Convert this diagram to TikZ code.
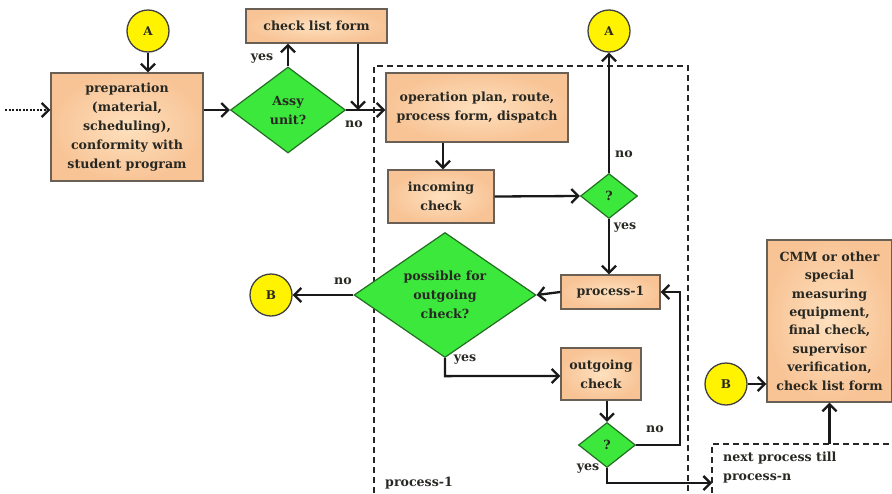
\documentclass[tikz,border=0pt]{standalone}
\usepackage{fontspec}
\setmainfont{DejaVu Serif}
\usetikzlibrary{shapes.geometric,arrows.meta}
\definecolor{peachIn}{RGB}{254,224,190}
\definecolor{peachOut}{RGB}{248,196,150}
\definecolor{boxline}{RGB}{105,95,85}
\definecolor{decgreen}{RGB}{60,232,60}
\definecolor{decline}{RGB}{35,110,35}
\definecolor{conyellow}{RGB}{255,243,0}
\definecolor{txt}{RGB}{40,40,35}
\begin{document}
\begin{tikzpicture}[x=1pt,y=-1pt,
  every node/.style={font=\bfseries\fontsize{12.6}{19}\selectfont, text=txt},
  procbox/.style={rectangle, draw=boxline, line width=1.3pt,
    inner color=peachIn, outer color=peachOut, align=center, inner sep=0pt},
  decision/.style={diamond, draw=decline, line width=1.2pt, fill=decgreen,
    inner sep=0pt, align=center},
  connector/.style={circle, draw=black!75, line width=1.3pt, fill=conyellow,
    minimum size=42pt, inner sep=0pt, font=\bfseries\fontsize{12}{14}\selectfont},
  flow/.style={line width=2.3pt, draw=black!90,
    -{Straight Barb[length=7pt,width=14pt,line width=2.3pt]}},
  zone/.style={draw=black!85, line width=1.5pt, dash pattern=on 6pt off 4pt},
  lbl/.style={inner sep=1pt}
]
\useasboundingbox (0,0) rectangle (892,493);

% dashed zones
\draw[zone] (374,493) -- (374,66) -- (688,66) -- (688,493);
\draw[zone] (712,493) -- (712,444) -- (892,444);

% connectors (A / B)
\node[connector] (A1) at (148,31) {A};
\node[connector] (A2) at (609,31) {A};
\node[connector] (B1) at (271,295) {B};
\node[connector] (B2) at (726,384) {B};

% process boxes
\node[procbox, minimum width=152pt, minimum height=108pt] (prep) at (127,127)
  {preparation\\(material,\\scheduling),\\conformity with\\student program};
\node[procbox, minimum width=141pt, minimum height=34pt] (clf) at (316.5,26) {check list form};
\node[procbox, minimum width=182pt, minimum height=69pt] (opp) at (477,107.5)
  {operation plan, route,\\process form, dispatch};
\node[procbox, minimum width=106pt, minimum height=53pt] (inc) at (441,196.5) {incoming\\check};
\node[procbox, minimum width=99pt, minimum height=34pt] (p1) at (610.5,292) {process-1};
\node[procbox, minimum width=80pt, minimum height=52pt] (outc) at (601,374) {outgoing\\check};
\node[procbox, minimum width=125pt, minimum height=162pt,
  font=\bfseries\fontsize{12.6}{18.4}\selectfont] (cmm) at (829.5,321)
  {CMM or other\\special\\measuring\\equipment,\\final check,\\supervisor\\verification,\\check list form};

% decisions
\node[decision, minimum width=115pt, minimum height=86pt] (assy) at (288,110) {Assy\\unit?};
\node[decision, minimum width=57pt, minimum height=45pt] (q1) at (609,196) {?};
\node[decision, minimum width=182pt, minimum height=125pt, aspect=1.45] (poc) at (445,295)
  {possible for\\outgoing\\check?};
\node[decision, minimum width=57pt, minimum height=45pt] (q2) at (607,445) {?};

% zone captions
\node[lbl, anchor=west] (capP1) at (384,483) {process-1};
\node[lbl, anchor=north west, align=left] (capPn) at (722,451)
  {next process till\\process-n};

% flow lines
\coordinate (start) at (5,110);
\draw[flow, dash pattern=on 2pt off 1.5pt] (start) -- (prep.west |- start);
\draw[flow] (A1.south) -- (A1.south |- prep.north);
\draw[flow] (prep.east |- assy) -- (assy.west);
\draw[flow] (assy.north) -- (clf.south -| assy.north);
\draw[flow] (assy.east) -- (opp.west |- assy.east);
\coordinate (clfdrop) at (358,110);
\draw[flow] (clf.south -| clfdrop) -- (clfdrop);
\coordinate (oppdrop) at (443,0);
\draw[flow] (opp.south -| oppdrop) -- (inc.north -| oppdrop);
\draw[flow] (inc.east) -- (q1.west);
\draw[flow] (q1.north) -- (A2.south);
\draw[flow] (q1.south) -- (p1.north -| q1.south);
\draw[flow] (p1.west) -- (poc.east);
\draw[flow] (poc.west) -- (B1.east);
\draw[flow] (poc.south) -- ++(0,18) -- (outc.west |- 0,376);
\draw[flow] (outc.south -| q2.north) -- (q2.north);
\draw[flow] (q2.east) -- (680,445) -- (680,292) -- (p1.east);
\draw[flow] (q2.south) -- (607,483) -- (712,483);
\draw[flow] (B2.east) -- (cmm.west |- B2.east);
\draw[flow] (cmm.south |- 0,444) -- (cmm.south);

% branch labels
\node[lbl] (yesA) at (262,59) {yes};
\node[lbl] (noA) at (354,124) {no};
\node[lbl] (noQ1) at (624,154) {no};
\node[lbl] (yesQ1) at (625,228) {yes};
\node[lbl] (noPoc) at (343,281) {no};
\node[lbl] (yesPoc) at (465,360) {yes};
\node[lbl] (noQ2) at (655,429) {no};
\node[lbl] (yesQ2) at (588,469) {yes};
\end{tikzpicture}
\end{document}
